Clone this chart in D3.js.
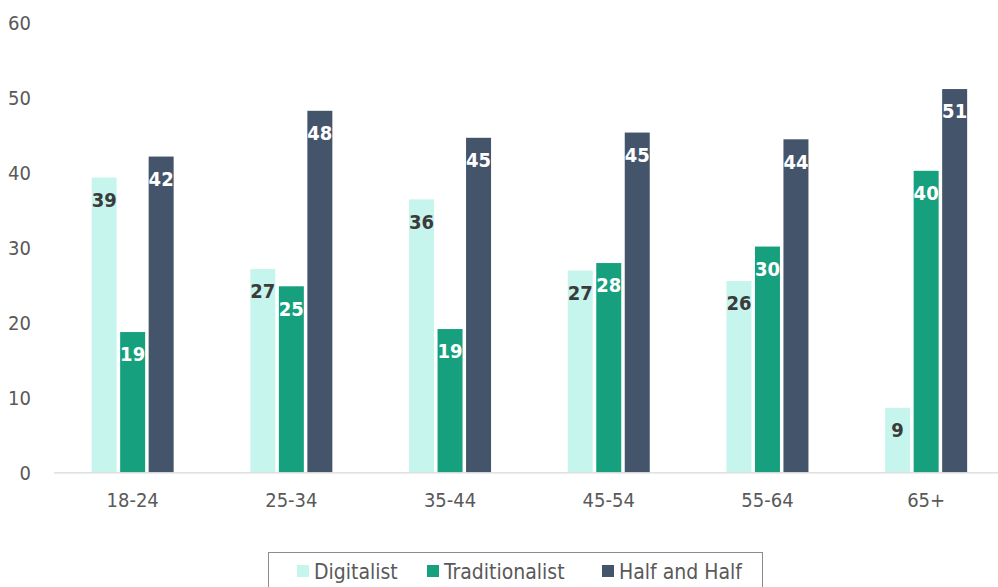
<!DOCTYPE html>
<html>
<head>
<meta charset="utf-8">
<script src="https://cdn.jsdelivr.net/npm/d3@7"></script>
<style>
  body { margin: 0; background: #fff; }
  svg text { font-family: "DejaVu Sans Condensed", "DejaVu Sans", sans-serif; }
</style>
</head>
<body>
<svg class="chart" width="998" height="587"></svg>
<script>
const categories = ["18-24", "25-34", "35-44", "45-54", "55-64", "65+"];
const seriesNames = ["Digitalist", "Traditionalist", "Half and Half"];
const digitalist = [39.3, 27.1, 36.4, 26.9, 25.5, 8.6];
const traditionalist = [18.7, 24.8, 19.1, 27.9, 30.1, 40.2];
const halfAndHalf = [42.1, 48.2, 44.6, 45.3, 44.4, 51.1];
const yTicks = [0, 10, 20, 30, 40, 50, 60];

const colors = ["#c6f5ee", "#17a07e", "#44546a"];
const labelColors = ["#3b3b3b", "#ffffff", "#ffffff"];

const values = [digitalist, traditionalist, halfAndHalf];
const data = categories.map((c, i) => ({
  cat: c,
  vals: seriesNames.map((s, j) => ({ key: s, idx: j, value: values[j][i] }))
}));

const svg = d3.select("svg.chart");

const x0 = d3.scaleBand()
  .domain(categories)
  .range([53.3, 1005.5])
  .padding(0);

const groupWidth = 82;
const x1 = d3.scaleBand()
  .domain(seriesNames)
  .range([0, groupWidth])
  .paddingInner(0.123)
  .paddingOuter(0);

const y = d3.scaleLinear()
  .domain([0, 60])
  .range([472.3, 22.3]);

// y tick labels (no axis line)
svg.append("g")
  .selectAll("text")
  .data(yTicks)
  .enter().append("text")
  .attr("x", 31)
  .attr("y", d => y(d))
  .attr("dy", "0.36em")
  .attr("text-anchor", "end")
  .attr("fill", "#595959")
  .style("font-size", "20px")
  .text(d => d);

// bars
const groups = svg.append("g")
  .selectAll("g")
  .data(data)
  .enter().append("g")
  .attr("transform", d => "translate(" + (x0(d.cat) + (x0.bandwidth() - groupWidth) / 2) + ",0)");

groups.selectAll("rect")
  .data(d => d.vals)
  .enter().append("rect")
  .attr("x", d => x1(d.key))
  .attr("y", d => y(d.value))
  .attr("width", x1.bandwidth())
  .attr("height", d => y(0) - y(d.value))
  .attr("fill", d => colors[d.idx]);

groups.selectAll("text")
  .data(d => d.vals)
  .enter().append("text")
  .attr("x", d => x1(d.key) + x1.bandwidth() / 2)
  .attr("y", d => y(d.value) + 22)
  .attr("dy", "0.36em")
  .attr("text-anchor", "middle")
  .attr("fill", d => labelColors[d.idx])
  .style("font-size", "20px")
  .style("font-weight", "bold")
  .text(d => Math.round(d.value));

// x axis
const xAxis = svg.append("g")
  .attr("transform", "translate(0," + y(0) + ")")
  .call(d3.axisBottom(x0).tickSize(0).tickPadding(21));
xAxis.select(".domain").attr("stroke", "#d9d9d9").attr("stroke-width", 1.2);
xAxis.selectAll("text")
  .attr("fill", "#595959")
  .style("font-size", "20px")
  .style("font-family", "'DejaVu Sans Condensed', 'DejaVu Sans', sans-serif");

// legend
const legend = svg.append("g");
legend.append("rect")
  .attr("x", 268.5)
  .attr("y", 552.5)
  .attr("width", 494)
  .attr("height", 60)
  .attr("fill", "none")
  .attr("stroke", "#8c8c8c")
  .attr("stroke-width", 1);

const legendX = [297, 427, 602];
seriesNames.forEach((s, i) => {
  legend.append("rect")
    .attr("x", legendX[i])
    .attr("y", 565)
    .attr("width", 12)
    .attr("height", 12)
    .attr("fill", colors[i]);
  legend.append("text")
    .attr("x", legendX[i] + 17)
    .attr("y", 579)
    .attr("fill", "#595959")
    .style("font-size", "21px")
    .text(s);
});
</script>
</body>
</html>
